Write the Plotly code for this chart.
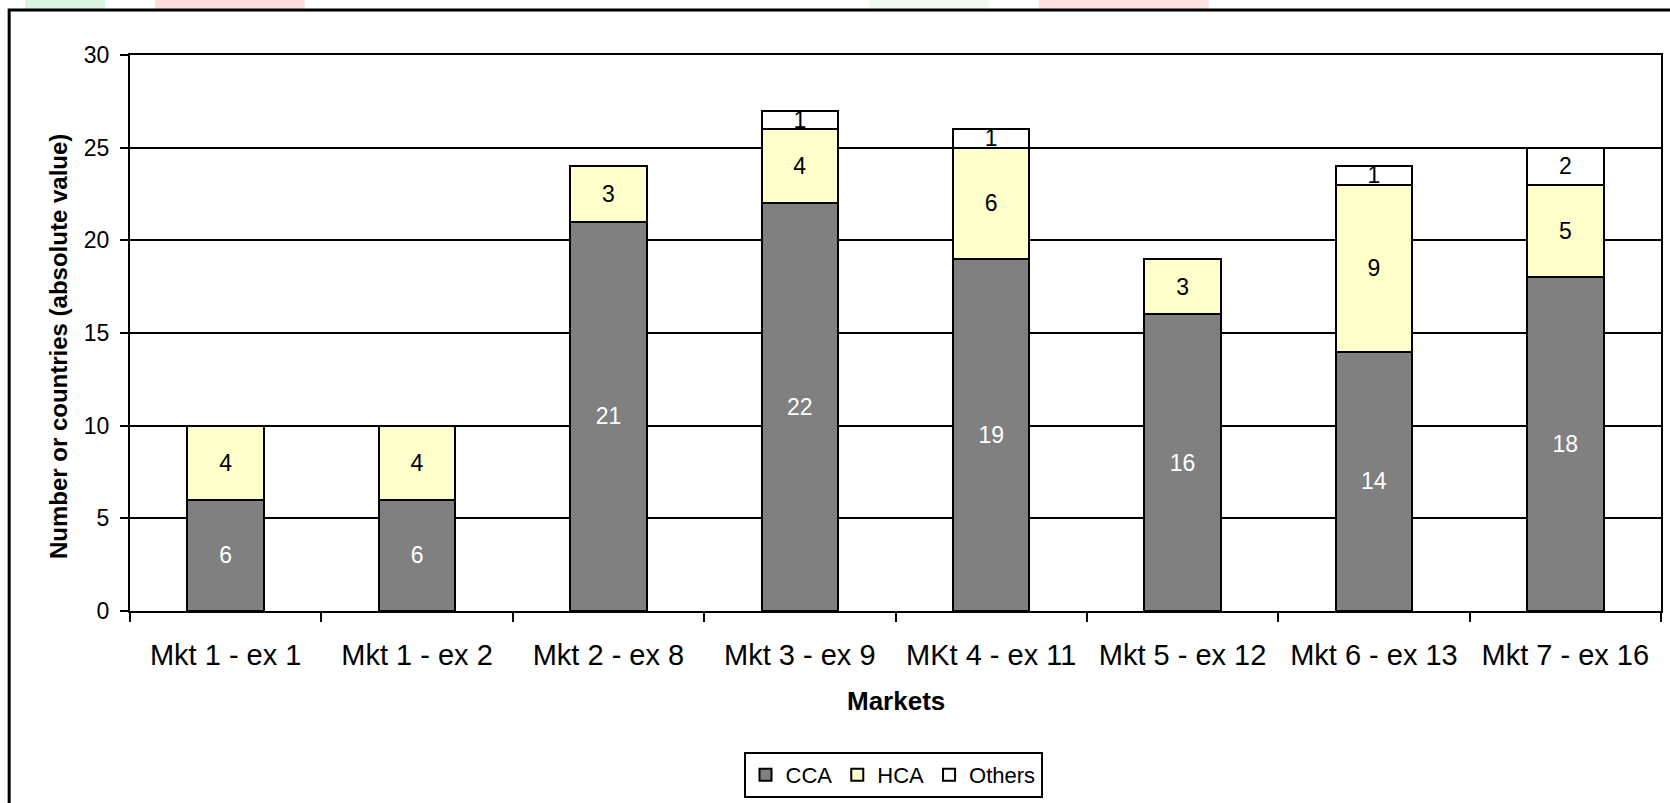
import plotly.graph_objects as go

categories = ["Mkt 1 - ex 1", "Mkt 1 - ex 2", "Mkt 2 - ex 8", "Mkt 3 - ex 9",
              "MKt 4 - ex 11", "Mkt 5 - ex 12", "Mkt 6 - ex 13", "Mkt 7 - ex 16"]
cca = [6, 6, 21, 22, 19, 16, 14, 18]
hca = [4, 4, 3, 4, 6, 3, 9, 5]
others = [None, None, None, 1, 1, None, 1, 2]
y_ticks = [0, 5, 10, 15, 20, 25, 30]

FONT = "Arial, Liberation Sans, sans-serif"
W, H = 1670, 803
L, R, T, B = 130, 7, 55, 192
PW, PH = W - L - R, H - T - B


def px_x(px):
    return (px - L) / PW


def px_y(py):
    return (H - B - py) / PH


fig = go.Figure()
series = [("CCA", cca, "#808080", "white"),
          ("HCA", hca, "#FFFFCC", "black"),
          ("Others", others, "#FFFFFF", "black")]
for name, vals, col, tcol in series:
    fig.add_trace(go.Bar(
        name=name, x=categories, y=vals,
        marker=dict(color=col, line=dict(color="black", width=2)),
        width=0.4,
        text=[("" if v is None else str(v)) for v in vals],
        textposition="inside", insidetextanchor="middle",
        constraintext="none", textangle=0,
        textfont=dict(family=FONT, size=23, color=tcol),
    ))

shapes = []
# faint watermark blobs at top edge
for x0, x1, c in [(25, 105, "rgba(150,225,170,0.35)"),
                  (155, 305, "rgba(255,160,160,0.35)"),
                  (870, 990, "rgba(200,240,210,0.25)"),
                  (1040, 1210, "rgba(255,170,170,0.35)")]:
    shapes.append(dict(type="rect", xref="paper", yref="paper",
                       x0=px_x(x0), x1=px_x(x1), y0=px_y(9), y1=px_y(0),
                       fillcolor=c, line=dict(width=0), layer="below"))
# outer chart border (left and top visible)
shapes.append(dict(type="path", xref="paper", yref="paper",
                   path=f"M {px_x(9)},{px_y(810)} L {px_x(9)},{px_y(10)} L {px_x(1680)},{px_y(10)}",
                   line=dict(color="black", width=3)))

fig.update_layout(
    width=W, height=H,
    margin=dict(l=L, r=R, t=T, b=B, pad=0),
    paper_bgcolor="white", plot_bgcolor="white",
    barmode="stack",
    font=dict(family=FONT, color="black"),
    showlegend=True,
    legend=dict(orientation="h", xref="container", yref="container",
                x=893 / W, xanchor="center", y=1 - 752 / H, yanchor="top",
                traceorder="normal", bordercolor="black", borderwidth=2,
                font=dict(family=FONT, size=22), itemwidth=30,
                bgcolor="white"),
    shapes=shapes,
    annotations=[
        dict(text="<b>Number or countries (absolute value)</b>", xref="paper", yref="paper",
             x=px_x(58), y=px_y(347), textangle=-90, showarrow=False,
             font=dict(family=FONT, size=24), xanchor="center", yanchor="middle"),
        dict(text="<b>Markets</b>", xref="paper", yref="paper",
             x=0.5, y=px_y(701), showarrow=False,
             font=dict(family=FONT, size=26), xanchor="center", yanchor="middle"),
    ],
)
fig.update_xaxes(
    type="category", showline=True, linecolor="black", linewidth=2, mirror=True,
    ticks="outside", tickson="boundaries", ticklen=9, tickwidth=2, tickcolor="black",
    tickfont=dict(family=FONT, size=29), showgrid=False, ticklabelstandoff=17,
)
fig.update_yaxes(
    range=[0, 30], tickvals=y_ticks, showline=True, linecolor="black", linewidth=2, mirror=True,
    ticks="outside", ticklen=8, tickwidth=2, tickcolor="black",
    tickfont=dict(family=FONT, size=23), showgrid=True, gridcolor="black", gridwidth=2,
    zeroline=False, ticklabelstandoff=6,
)

fig.write_html("out.html", config={"displayModeBar": False},
               post_script="document.body.style.margin='0';document.body.style.padding='0';")
